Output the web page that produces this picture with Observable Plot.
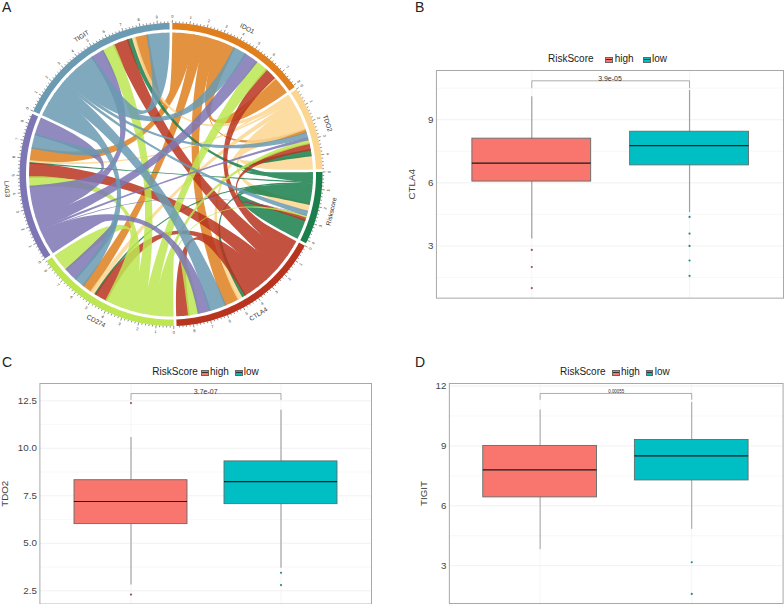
<!DOCTYPE html>
<html><head><meta charset="utf-8">
<script src="https://cdn.jsdelivr.net/npm/d3@7"></script>
<script src="https://cdn.jsdelivr.net/npm/@observablehq/plot@0.6"></script>
<style>
html,body{margin:0;padding:0;background:#fff;width:784px;height:604px;overflow:hidden;font-family:"Liberation Sans",Arial,sans-serif}
#root{position:relative;width:784px;height:604px;overflow:hidden}
.abs{position:absolute;white-space:nowrap;line-height:1}
.abs svg{display:block;overflow:visible}
.key{position:absolute;width:5.5px;height:3.6px;border:.7px solid #666;box-sizing:content-box}
.key:after{content:"";position:absolute;left:0;right:0;top:1.4px;height:.7px;background:#333}
</style></head><body><div id="root"></div>
<script>
// ---------- Panel A: chord diagram (slot widths in sector units, clockwise order)
const sectors = ["IDO1","TDO2","Riskscore","CTLA4","CD274","LAG3","TIGIT"];
const bandColors = ["#DF7F1E","#FCD690","#1A7F4C","#B9341F","#BDE752","#7D76B4","#6A9BB2"];
const ido1Slots = [["IDO1","TIGIT",.68],["IDO1","LAG3",.65],["IDO1","CD274",.67],["IDO1","CTLA4",.8],["IDO1","TDO2",.15],["IDO1","IDO1",.95],
  ["TIGIT","IDO1",.76],["LAG3","IDO1",.83],["CD274","IDO1",.76],["CTLA4","IDO1",.68],["TDO2","IDO1",.12],["IDO1","IDO1",1.06]];
const tdo2Slots = [["TDO2","IDO1",.15],["TDO2","TIGIT",.24],["TDO2","LAG3",.12],["TDO2","CD274",.27],["TDO2","CTLA4",.3],["TDO2","Riskscore",.42],["TDO2","TDO2",.83],
  ["IDO1","TDO2",.23],["TIGIT","TDO2",.3],["LAG3","TDO2",.15],["CD274","TDO2",.23],["CTLA4","TDO2",.38],["Riskscore","TDO2",.35],["TDO2","TDO2",.85]];
const riskSlots = [["Riskscore","TDO2",.35],["Riskscore","TIGIT",.26],["Riskscore","LAG3",.08],["Riskscore","CD274",.1],["Riskscore","CTLA4",.21],["Riskscore","Riskscore",.95],
  ["TDO2","Riskscore",.44],["TIGIT","Riskscore",.26],["LAG3","Riskscore",.03],["CD274","Riskscore",.1],["CTLA4","Riskscore",.2],["Riskscore","Riskscore",1.2]];
const ctla4Slots = [["CTLA4","Riskscore",.15],["CTLA4","TDO2",.27],["CTLA4","IDO1",.58],["CTLA4","TIGIT",1.0],["CTLA4","LAG3",.95],["CTLA4","CD274",.67],["CTLA4","CTLA4",.91],
  ["Riskscore","CTLA4",.21],["TDO2","CTLA4",.3],["IDO1","CTLA4",.85],["TIGIT","CTLA4",1.0],["LAG3","CTLA4",.7],["CD274","CTLA4",.6],["CTLA4","CTLA4",.77]];
const cd274Slots = [["CD274","CTLA4",.83],["CD274","Riskscore",.11],["CD274","TDO2",.27],["CD274","IDO1",.68],["CD274","TIGIT",.76],["CD274","LAG3",.61],["CD274","CD274",.97],
  ["CTLA4","CD274",.7],["Riskscore","CD274",.11],["TDO2","CD274",.27],["IDO1","CD274",.59],["TIGIT","CD274",.61],["LAG3","CD274",.8],["CD274","CD274",1.11]];
const lag3Slots = [["LAG3","CD274",.8],["LAG3","CTLA4",.71],["LAG3","Riskscore",.06],["LAG3","TDO2",.14],["LAG3","IDO1",.71],["LAG3","TIGIT",.86],["LAG3","LAG3",1.03],
  ["CD274","LAG3",.58],["CTLA4","LAG3",.82],["Riskscore","LAG3",.08],["TDO2","LAG3",.12],["IDO1","LAG3",.76],["TIGIT","LAG3",.83],["LAG3","LAG3",1.08]];
const tigitSlots = [["TIGIT","LAG3",.83],["TIGIT","CD274",.68],["TIGIT","CTLA4",.8],["TIGIT","Riskscore",.18],["TIGIT","TDO2",.2],["TIGIT","IDO1",.79],["TIGIT","TIGIT",1.21],
  ["LAG3","TIGIT",.76],["CD274","TIGIT",.76],["CTLA4","TIGIT",.88],["Riskscore","TIGIT",.26],["TDO2","TIGIT",.24],["IDO1","TIGIT",.74],["TIGIT","TIGIT",1.36]];
const allSlots = [ido1Slots,tdo2Slots,riskSlots,ctla4Slots,cd274Slots,lag3Slots,tigitSlots];

// ---------- Panels B, C, D: [lower whisker, Q1, median, Q3, upper whisker]
const groups = ["high","low"];
const groupColors = ["#F8766D","#00BFC4"];
const dotColors = ["#A5504C","#1F8A90"];
const ctla4High = [3.33,6.06,6.94,8.10,10.09], ctla4Low = [4.59,6.83,7.77,8.43,10.39];
const ctla4OutHigh = [2.81,2.0,1.0], ctla4OutLow = [4.38,3.59,3.0,2.31,1.58];
const tdo2High = [2.8,6.01,7.2,8.32,10.57], tdo2Low = [3.69,7.06,8.25,9.31,12.0];
const tdo2OutHigh = [12.38,2.3], tdo2OutLow = [3.45,2.8];
const tigitHigh = [3.8,6.42,7.8,9.0,10.8], tigitLow = [4.82,7.27,8.5,9.3,11.18];
const tigitOutHigh = [], tigitOutLow = [3.17,1.58];

const root = document.getElementById("root");
function place(node,left,top){const d=document.createElement("div");d.className="abs";d.style.left=left+"px";d.style.top=top+"px";d.append(node);root.append(d);return d;}
function label(text,left,top,size,color){const d=place(document.createTextNode(text),left,top);d.style.fontSize=size+"px";d.style.color=color||"#222";return d;}

// ---------- chord layout
function chord(){
  const gap=1.06, start=0.5;
  const total=d3.sum(allSlots,s=>d3.sum(s,v=>v[2]));
  const degPerUnit=(360-gap*sectors.length)/total;
  const toXY=(deg,r)=>{const t=deg*Math.PI/180;return [r*Math.sin(t),r*Math.cos(t)];};
  const arcs=new Map(), bands=[], ticks=[], tickText=[], names=[];
  let a=start;
  allSlots.forEach((slots,i)=>{
    const len=d3.sum(slots,v=>v[2]);
    let p=a;
    const end=a+len*degPerUnit;
    for(const [s,t,w] of slots){
      const id=s+">"+t, q=p+w*degPerUnit, pad=Math.min(.12*(q-p),.35);
      if(!arcs.has(id))arcs.set(id,[]);
      arcs.get(id).push([Math.max(a,p-pad),Math.min(end,q+pad)]);
      p=q;
    }
    const a0=a,a1=p;
    for(let k=0;k<=40;k++){const d=a0+(a1-a0)*k/40;const [x,y]=toXY(d,1);bands.push({id:i,c:bandColors[i],x,y});}
    for(let k=40;k>=0;k--){const d=a0+(a1-a0)*k/40;const [x,y]=toXY(d,.957);bands.push({id:i,c:bandColors[i],x,y});}
    for(let u=0;u<=len+1e-6;u+=.2){
      const major=Math.abs(u-Math.round(u))<1e-6, d=a0+u*degPerUnit;
      const [x1,y1]=toXY(d,1),[x2,y2]=toXY(d,major?1.02:1.011);
      ticks.push({x1,y1,x2,y2});
      if(major){const [x,y]=toXY(d,1.043);tickText.push({x,y,t:String(Math.round(u)),r:d>90&&d<270?d-180:d});}
    }
    const mid=(a0+a1)/2,[nx,ny]=toXY(mid,1.087);
    names.push({x:nx,y:ny,t:sectors[i],r:mid>90&&mid<270?mid-180:mid});
    a=a1+gap;
  });
  const pts=[];
  sectors.forEach((src,si)=>sectors.forEach(tgt=>{
    const id=src+">"+tgt, list=arcs.get(id); if(!list)return;
    const [[a0,a1],[b0,b1]]=list;
    const add=(x,y)=>pts.push({id,src,c:bandColors[si],x,y});
    const r=.937;
    const arc=(f,g)=>{for(let k=0;k<=6;k++){const [x,y]=toXY(f+(g-f)*k/6,r);add(x,y);}};
    const bez=(f,g)=>{const P=toXY(f,r),Q=toXY(g,r);for(let k=1;k<40;k++){const t=k/40,m=(1-t)*(1-t),n=t*t;add(m*P[0]+n*Q[0],m*P[1]+n*Q[1]);}};
    arc(a0,a1);bez(a1,b0);arc(b0,b1);bez(b1,a0);
  }));
  return {bands,ticks,tickText,names,pts};
}
(function drawChord(){
  const {bands,ticks,tickText,names,pts}=chord();
  const cx=170.5, cy=174, R=151.5;
  const font="'Liberation Sans',Arial,sans-serif";
  // group opacity: each source's ribbons merge into one translucent layer
  const layer=(i,s,v,d,c,next)=>{const g=next(i,s,v,d,c);g.style.opacity=.85;return g;};
  const p=Plot.plot({width:345,height:345,margin:0,style:{background:"transparent",fontFamily:font},
    x:{domain:[-1,1],range:[cx-R,cx+R]},y:{domain:[-1,1],range:[cy+R,cy-R]},axis:null,
    marks:[
      ...sectors.map(s=>Plot.line(pts.filter(d=>d.src===s),{x:"x",y:"y",z:"id",fill:"c",stroke:"none",curve:"linear",render:layer})),
      Plot.line(bands,{x:"x",y:"y",z:"id",fill:"c",stroke:"none",curve:"linear"}),
      Plot.link(ticks,{x1:"x1",y1:"y1",x2:"x2",y2:"y2",stroke:"#222",strokeWidth:.5}),
      Plot.text(tickText,{x:"x",y:"y",text:"t",rotate:"r",fontSize:4,fill:"#333"}),
      Plot.text(names,{x:"x",y:"y",text:"t",rotate:"r",fontSize:6.5,fill:"#333"})
    ]});
  place(p,0,0);
})();

// ---------- box panels
function boxPanel(o){
  const rows=[{g:groups[0],s:o.high,c:groupColors[0]},{g:groups[1],s:o.low,c:groupColors[1]}]
    .map(r=>({g:r.g,c:r.c,lo:r.s[0],q1:r.s[1],med:r.s[2],q3:r.s[3],hi:r.s[4]}));
  const dots=[...o.outHigh.map(y=>({g:groups[0],y,c:dotColors[0]})),...o.outLow.map(y=>({g:groups[1],y,c:dotColors[1]}))];
  const bracket=[{g:groups[0],y:o.bracket[1]},{g:groups[0],y:o.bracket[0]},{g:groups[1],y:o.bracket[0]},{g:groups[1],y:o.bracket[1]}];
  const ml=o.left, mt=3, mb=3, w=ml+o.frameW+1, h=o.frameH+mt+mb;
  const font="'Liberation Sans',Arial,sans-serif";
  const p=Plot.plot({width:w,height:h,marginLeft:ml,marginRight:1,marginTop:mt,marginBottom:mb,
    style:{background:"transparent",fontFamily:font,overflow:"visible"},
    x:{type:"band",domain:groups,paddingInner:.25,paddingOuter:.225,axis:null},
    y:{domain:o.domain,nice:false},
    marks:[
      Plot.ruleY(o.minor,{stroke:"#f3f3f3",strokeWidth:.6}),
      Plot.ruleY(o.ticks,{stroke:"#ebebeb",strokeWidth:.7}),
      Plot.ruleX(groups,{x:d=>d,stroke:"#f1f1f1",strokeWidth:.7}),
      Plot.ruleX(rows,{x:"g",y1:"lo",y2:"hi",stroke:o.whiskerColor,strokeWidth:o.whisker}),
      Plot.barY(rows,{x:"g",y1:"q1",y2:"q3",fill:"c",stroke:"#5f6d6d",strokeWidth:.9}),
      Plot.tickY(rows,{x:"g",y:"med",stroke:"#1a1a1a",strokeWidth:1.2}),
      Plot.dot(dots,{x:"g",y:"y",r:1.1,fill:"c",stroke:"none"}),
      Plot.line(bracket,{x:"g",y:"y",stroke:"#8a8a8a",strokeWidth:.7,curve:"linear"}),
      Plot.text([o.p],{frameAnchor:"top",y:o.pY,text:d=>d,fontSize:o.pSize,fill:"#333"}),
      Plot.frame({stroke:"#a8a8a8",strokeWidth:1}),
      Plot.axisY({ticks:o.ticks,tickSize:0,tickPadding:3,fontSize:9.8,color:"#444",tickFormat:o.format,label:o.title,labelAnchor:"center",labelOffset:o.labelOffset,labelArrow:"none"})
    ]});
  place(p,o.frameX-ml,o.frameY-mt);
  const ly=o.legendY;
  label("RiskScore",o.lg[0],ly-5,10);
  const keyA=document.createElement("div");keyA.className="key";keyA.style.cssText=`left:${o.lg[1]}px;top:${ly-2}px;background:${groupColors[0]}`;root.append(keyA);
  label("high",o.lg[2],ly-5,10);
  const keyB=document.createElement("div");keyB.className="key";keyB.style.cssText=`left:${o.lg[3]}px;top:${ly-2}px;background:${groupColors[1]}`;root.append(keyB);
  label("low",o.lg[4],ly-5,10);
}
boxPanel({title:"CTLA4",high:ctla4High,low:ctla4Low,outHigh:ctla4OutHigh,outLow:ctla4OutLow,
  frameX:436,frameY:70,frameW:347.6,frameH:228,left:46,labelOffset:28,domain:[.52,11.34],ticks:[3,6,9],minor:[1.5,4.5,7.5,10.5],
  bracket:[10.85,10.52],p:"3.9e-05",pY:11.07,pSize:7,legendY:59,lg:[548,605,614.7,643.3,652],whisker:1.2,whiskerColor:"#a0a0a0"});
boxPanel({title:"TDO2",high:tdo2High,low:tdo2Low,outHigh:tdo2OutHigh,outLow:tdo2OutLow,
  frameX:39.4,frameY:382.7,frameW:331.6,frameH:220.6,left:39.4,labelOffset:39,domain:[1.8,13.41],ticks:[2.5,5,7.5,10,12.5],minor:[3.75,6.25,8.75,11.25],format:d3.format(".1f"),
  bracket:[12.88,12.57],p:"3.7e-07",pY:13.13,pSize:7,legendY:372,lg:[152.3,201,210,235,243.7],whisker:1.4,whiskerColor:"#b0b0b0"});
boxPanel({title:"TIGIT",high:tigitHigh,low:tigitLow,outHigh:tigitOutHigh,outLow:tigitOutLow,
  frameX:449.4,frameY:382.7,frameW:334.6,frameH:220.6,left:59,labelOffset:29,domain:[1.1,12.13],ticks:[3,6,9,12],minor:[4.5,7.5,10.5],
  bracket:[11.63,11.33],p:"0.00055",pY:11.8,pSize:4.5,legendY:372,lg:[560,612,621,645.7,654.7],whisker:.8,whiskerColor:"#8a8a8a"});

label("A",2,0,14);label("B",415,0,14);label("C",2,355,14);label("D",415,355,14);
</script></body></html>
